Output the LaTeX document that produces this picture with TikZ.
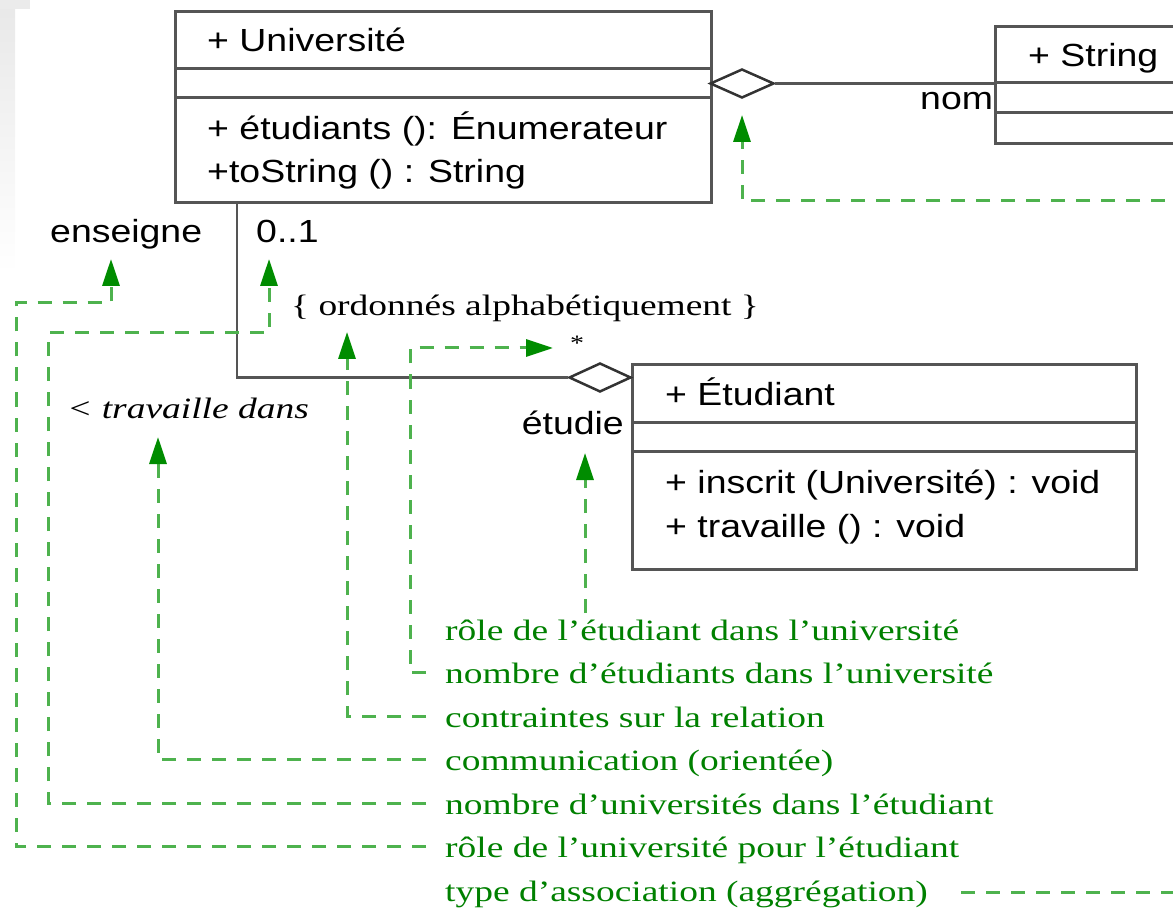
\documentclass[tikz,border=0pt]{standalone}
\usepackage{fontspec}
\usetikzlibrary{arrows.meta,shapes.geometric}
\newfontfamily\umlsans[FakeStretch=1.17]{Liberation Sans}
\newfontfamily\noteserif[FakeStretch=1.27]{Liberation Serif}
\definecolor{boxgray}{RGB}{85,85,85}
\definecolor{notegreen}{RGB}{0,128,0}
\definecolor{dashgreen}{RGB}{78,178,78}
\definecolor{tipgreen}{RGB}{0,140,0}

\begin{document}
\begin{tikzpicture}[x=1pt,y=-1pt,
  classbox/.style={draw=boxgray, line width=3pt, inner sep=0pt, anchor=north west},
  compart/.style={draw=boxgray, line width=3pt},
  umlline/.style={draw=boxgray, line width=2.5pt},
  aggdiamond/.style={diamond, draw=black!80, line width=2.5pt, fill=white,
    inner sep=0pt, minimum width=#1, minimum height=29pt},
  umltext/.style={font=\umlsans\fontsize{32}{38}\selectfont, inner sep=0pt, anchor=base west},
  serifbase/.style={font=\noteserif\fontsize{29.5}{35}\selectfont, inner sep=0pt, anchor=base west},
  notetext/.style={serifbase, text=notegreen},
  notelink/.style={draw=dashgreen, line width=3pt, dash pattern=on 14pt off 11pt},
  pointer/.style={notelink, -{Triangle[length=27pt,width=17pt,color=tipgreen]}},
]
\useasboundingbox (0,0) rectangle (1173,909);
\clip (0,0) rectangle (1173,909);

% faint grey band along the upper left edge
\fill[top color=black!9, bottom color=white, draw=none] (0,0) rectangle (15,273);
\fill[black!8] (0,0) rectangle (30,9);

% classes
\node[classbox, minimum width=536pt, minimum height=191pt] (univ) at (174,10) {};
\draw[compart] ([yshift=-59pt]univ.north west) -- ([yshift=-59pt]univ.north east);
\draw[compart] ([yshift=-88pt]univ.north west) -- ([yshift=-88pt]univ.north east);

\node[classbox, minimum width=260pt, minimum height=117pt] (string) at (994,25) {};
\draw[compart] ([yshift=-58pt]string.north west) -- ([yshift=-58pt]string.north east);
\draw[compart] ([yshift=-88pt]string.north west) -- ([yshift=-88pt]string.north east);

\node[classbox, minimum width=504pt, minimum height=205pt] (etu) at (631,363) {};
\draw[compart] ([yshift=-59pt]etu.north west) -- ([yshift=-59pt]etu.north east);
\draw[compart] ([yshift=-88pt]etu.north west) -- ([yshift=-88pt]etu.north east);

\node[umltext] (univName) at (207,52) {+ Université};
\node[umltext] (univOpA) at (207,140) {+ étudiants (): Énumerateur};
\node[umltext] (univOpB) at (207,183) {+toString () : String};
\node[umltext] (strName) at (1028,67) {+ String};
\node[umltext] (etuName) at (665,405) {+ Étudiant};
\node[umltext] (etuOpA) at (665,493) {+ inscrit (Université) : void};
\node[umltext] (etuOpB) at (665,537) {+ travaille () : void};

% associations
\node[aggdiamond=64pt] (aggNom) at (742,83.5) {};
\draw[umlline] (aggNom.east) -- (aggNom.east -| string.west);

\node[aggdiamond=62pt] (aggEtu) at (600,377.5) {};
\draw[umlline] ([xshift=63pt]univ.south west) |- (aggEtu.west);

\node[umltext] (roleNom) at (920,110) {nom};
\node[umltext] (roleEns) at (50,243) {enseigne};
\node[umltext] (multUniv) at (256,243) {0..1};
\node[umltext, anchor=base east] (roleEtu) at (624,434) {étudie};
\node[serifbase] (ordre) at (291,316) {\{ ordonnés alphabétiquement \}};
\node[serifbase, font=\noteserif\fontsize{22}{26}\selectfont, anchor=center] (multEtu) at (577,343) {*};
\node[serifbase, font=\noteserif\itshape\fontsize{29.5}{35}\selectfont] (nomAssoc) at (67,418) {< travaille dans};

% annotations
\node[notetext] (noteA) at (445,640) {rôle de l’étudiant dans l’université};
\node[notetext] (noteB) at (445,683.5) {nombre d’étudiants dans l’université};
\node[notetext] (noteC) at (445,727) {contraintes sur la relation};
\node[notetext] (noteD) at (445,770.5) {communication (orientée)};
\node[notetext] (noteE) at (445,814) {nombre d’universités dans l’étudiant};
\node[notetext] (noteF) at (445,857.5) {rôle de l’université pour l’étudiant};
\node[notetext] (noteG) at (445,901) {type d’association (aggrégation)};

\coordinate (tipEns) at (111,259);
\coordinate (tipMult) at (269,259);
\coordinate (tipOrdre) at (347,332);
\coordinate (tipStar) at (553,348);
\coordinate (tipEtudie) at (585,453);
\coordinate (tipAssoc) at (158,437);
\coordinate (tipAgg) at (742,115);
\coordinate (startEtudie) at (585,613);

\draw[pointer] ([shift={(-19pt,11pt)}]noteF.base west) -| (16,303) -| (tipEns);
\draw[pointer] ([shift={(-19pt,11pt)}]noteE.base west) -| (48,333) -| (tipMult);
\draw[pointer] ([shift={(-19pt,11pt)}]noteC.base west) -| (tipOrdre);
\draw[pointer] ([shift={(-19pt,11pt)}]noteB.base west) -| (410,348) -- (tipStar);
\draw[pointer] (startEtudie) -- (tipEtudie);
\draw[pointer] ([shift={(-19pt,11pt)}]noteD.base west) -| (tipAssoc);
\draw[pointer] (1190,201) -| (tipAgg);
\draw[notelink] ([shift={(33pt,9pt)}]noteG.base east) -- ++(260,0);
\end{tikzpicture}
\end{document}
